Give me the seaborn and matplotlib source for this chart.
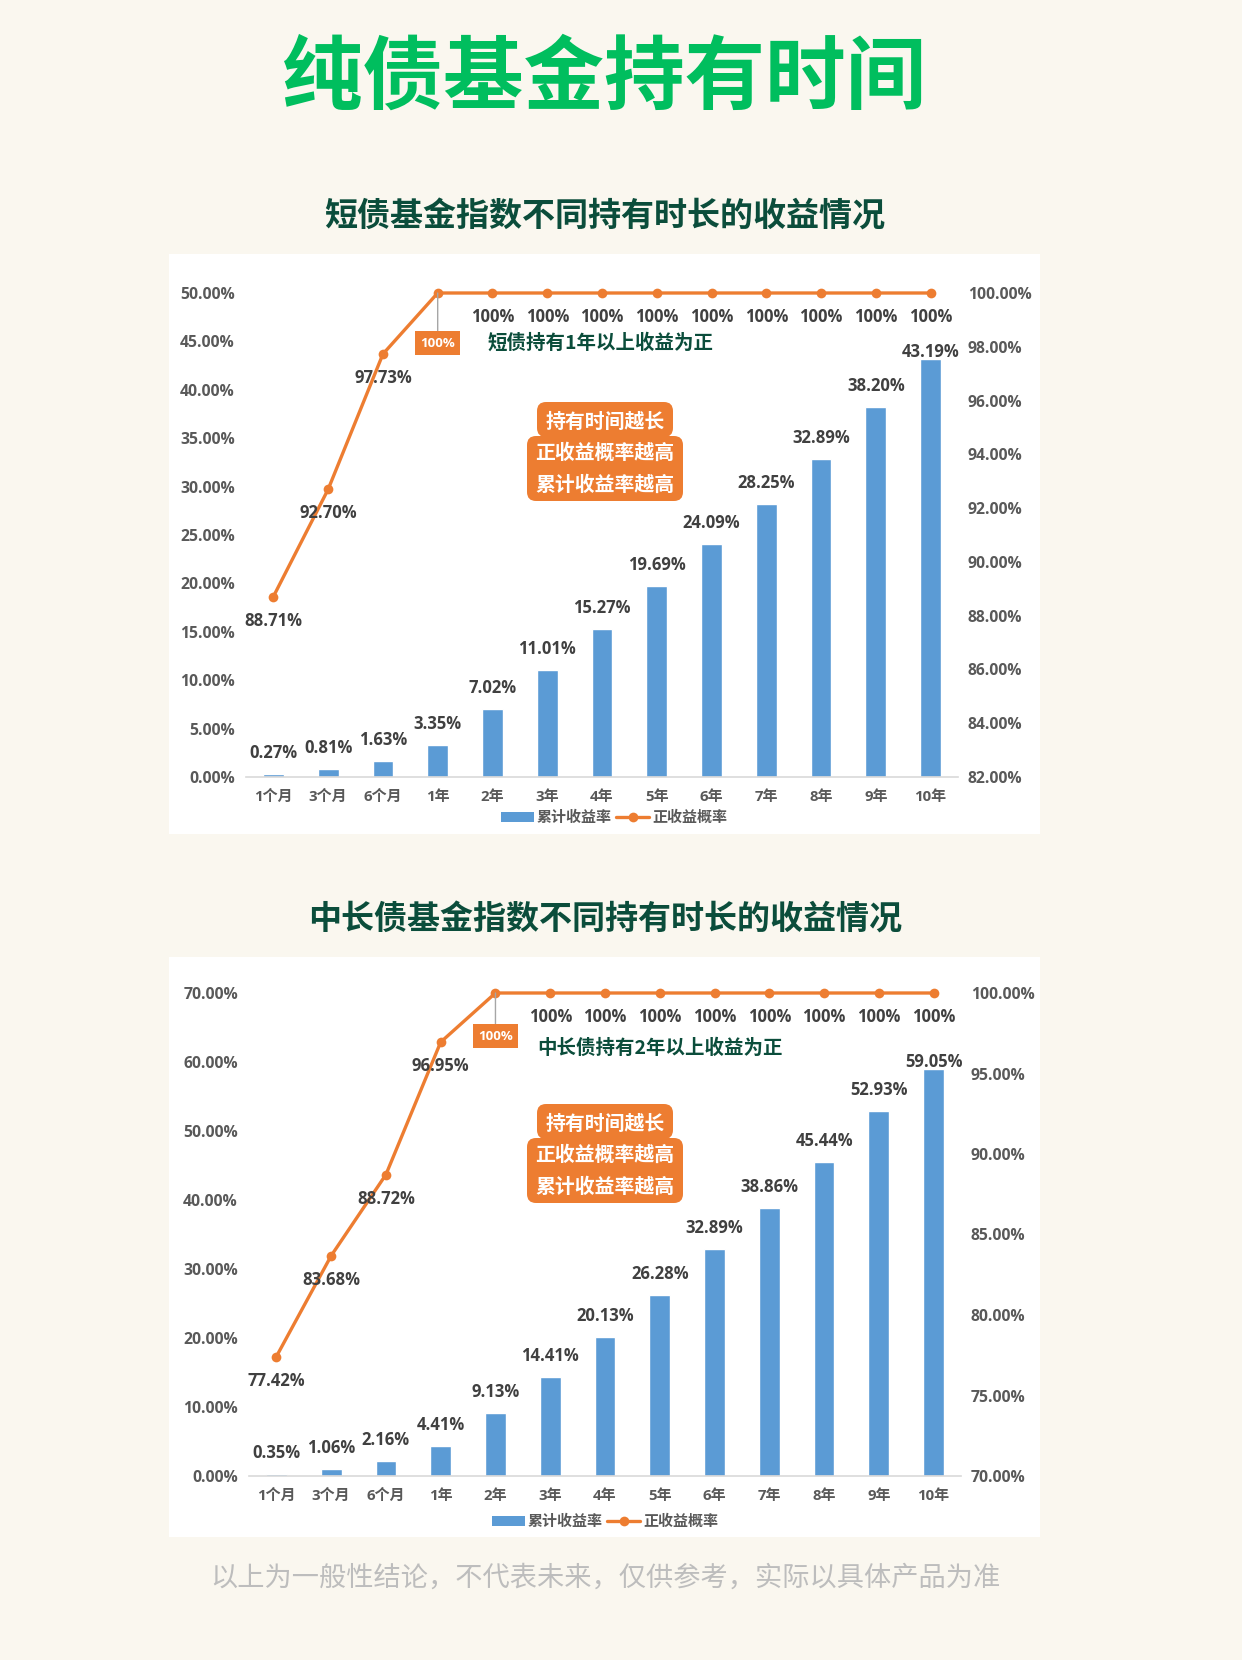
import numpy as np
import pandas as pd
import matplotlib.pyplot as plt
import seaborn as sns
from matplotlib.patches import Rectangle, FancyBboxPatch, Patch
from matplotlib.lines import Line2D

# data
periods = ['1个月', '3个月', '6个月', '1年', '2年', '3年', '4年', '5年', '6年', '7年', '8年', '9年', '10年']
short_return = [0.27, 0.81, 1.63, 3.35, 7.02, 11.01, 15.27, 19.69, 24.09, 28.25, 32.89, 38.20, 43.19]
short_prob = [88.71, 92.70, 97.73, 100, 100, 100, 100, 100, 100, 100, 100, 100, 100]
long_return = [0.35, 1.06, 2.16, 4.41, 9.13, 14.41, 20.13, 26.28, 32.89, 38.86, 45.44, 52.93, 59.05]
long_prob = [77.42, 83.68, 88.72, 96.95, 100, 100, 100, 100, 100, 100, 100, 100, 100]

W, H = 1242, 1660
BG = '#FAF7EF'
BLUE = '#5B9BD5'
ORANGE = '#ED7D31'
GREEN = '#00BE5E'
DKGREEN = '#0B4D3B'
CJK = ['Noto Sans CJK SC', 'DejaVu Sans']

sns.set_style('white')
plt.rcParams['font.family'] = ['Open Sans', 'Noto Sans CJK SC', 'DejaVu Sans']
plt.rcParams['font.weight'] = 'bold'

fig = plt.figure(figsize=(W / 100, H / 100), dpi=100, facecolor=BG)
inch = fig.dpi_scale_trans


def px(x, y):
    # pixel position (from top-left) -> inches for dpi_scale_trans
    return (x / 100, (H - y) / 100)


def draw_chart(panel, axbox, returns, probs, lims, steps, note, note_xy, box_dy, legend_xy, bubble_top):
    # white panel
    x0, y0, x1, y1 = panel
    fig.add_artist(Rectangle(px(x0, y1), (x1 - x0) / 100, (y1 - y0) / 100,
                             transform=inch, fc='white', ec='none', zorder=-1))

    l, t, r, b = axbox
    ax = fig.add_axes([l / W, 1 - b / H, (r - l) / W, (b - t) / H])
    ax.patch.set_alpha(0)

    df = pd.DataFrame({'period': periods, 'ret': returns})
    sns.barplot(data=df, x='period', y='ret', color=BLUE, width=0.38,
                saturation=1, ax=ax, zorder=2)
    n = len(returns)
    for i, v in enumerate(returns):
        off = 7 if i == n - 1 else 21
        ax.annotate(f'{v:.2f}%', (i, v), xytext=(0, off), textcoords='offset pixels',
                    ha='center', va='center', fontsize=12, color='#404040')

    ax2 = ax.twinx()
    ax2.patch.set_alpha(0)
    sns.lineplot(x=np.arange(n), y=probs, ax=ax2, color=ORANGE, lw=2.4, marker='o',
                 markersize=7, markeredgewidth=0, clip_on=False, zorder=3)
    first_full = probs.index(100)
    for i, p in enumerate(probs):
        if i == first_full:
            ax2.annotate('100%', (i, p), xytext=(0, -box_dy), textcoords='offset pixels',
                         ha='center', va='center', fontsize=9.5, color='white',
                         bbox=dict(boxstyle='square,pad=0.38', fc=ORANGE, ec='none'),
                         arrowprops=dict(arrowstyle='-', color='#A6A6A6', lw=1,
                                         shrinkA=0, shrinkB=0))
            continue
        lab = '100%' if p == 100 else f'{p:.2f}%'
        ax2.annotate(lab, (i, p), xytext=(0, -24), textcoords='offset pixels',
                     ha='center', va='center', fontsize=12, color='#404040')

    (lmax, rmin), (lstep, rstep) = lims, steps
    lt = np.arange(0, lmax + 0.01, lstep)
    ax.set_ylim(0, lmax)
    ax.set_yticks(lt)
    ax.set_yticklabels([f'{v:.2f}%' for v in lt])
    rt = np.arange(rmin, 100.01, rstep)
    ax2.set_ylim(rmin, 100)
    ax2.set_yticks(rt)
    ax2.set_yticklabels([f'{v:.2f}%' for v in rt])
    ax.set_xlim(-0.5, n - 0.5)

    for a in (ax, ax2):
        a.set_xlabel('')
        a.set_ylabel('')
        a.grid(False)
        for s in a.spines.values():
            s.set_visible(False)
    ax.spines['bottom'].set_visible(True)
    ax.spines['bottom'].set_color('#D9D9D9')
    ax.spines['bottom'].set_linewidth(1.2)
    ax.tick_params(axis='y', length=0, pad=8, labelsize=11.3, labelcolor='#595959')
    ax2.tick_params(axis='y', length=0, pad=7, labelsize=11.3, labelcolor='#595959')
    ax.tick_params(axis='x', length=0, pad=9, labelsize=10.8, labelcolor='#595959')

    # legend
    handles = [Patch(fc=BLUE, ec='none'),
               Line2D([0], [0], color=ORANGE, lw=2.4, marker='o', ms=7, mew=0)]
    fig.legend(handles, ['累计收益率', '正收益概率'], loc='center',
               bbox_to_anchor=px(*legend_xy), bbox_transform=inch, ncol=2,
               frameon=False, handlelength=2.2, handletextpad=0.2, columnspacing=0.3,
               labelcolor='#595959', prop=dict(family=CJK, weight='bold', size=10.8))

    # green note
    fig.text(*px(*note_xy), note, transform=inch, ha='left', va='center',
             fontsize=14, color=DKGREEN, family=CJK, weight='bold')

    # orange bubble with three lines
    bt = bubble_top
    fig.add_artist(FancyBboxPatch(px(537, bt + 33), 1.36, 0.35,
                                  boxstyle='round,pad=0,rounding_size=0.09',
                                  transform=inch, fc=ORANGE, ec='none', zorder=4))
    fig.add_artist(FancyBboxPatch(px(527, bt + 97), 1.56, 0.65,
                                  boxstyle='round,pad=0,rounding_size=0.09',
                                  transform=inch, fc=ORANGE, ec='none', zorder=4))
    for k, line in enumerate(['持有时间越长', '正收益概率越高', '累计收益率越高']):
        fig.text(*px(605, bt + 17 + 31.5 * k), line, transform=inch, ha='center',
                 va='center', fontsize=14.3, color='white', family=CJK,
                 weight='bold', zorder=5)


fig.text(*px(604, 79), '纯债基金持有时间', transform=inch, ha='center', va='center',
         fontsize=58, fontweight='black', color=GREEN, family=CJK)
fig.text(*px(605, 217), '短债基金指数不同持有时长的收益情况', transform=inch,
         ha='center', va='center', fontsize=23.8, fontweight='bold', color=DKGREEN, family=CJK)
fig.text(*px(605, 920), '中长债基金指数不同持有时长的收益情况', transform=inch,
         ha='center', va='center', fontsize=23.8, fontweight='bold', color=DKGREEN, family=CJK)

draw_chart((169, 254, 1040, 834), (246, 293, 958, 777), short_return, short_prob,
           (50, 82), (5, 2), '短债持有1年以上收益为正', (488, 343), 50, (614, 817), 404)
draw_chart((169, 957, 1040, 1537), (249, 993, 961, 1476), long_return, long_prob,
           (70, 70), (10, 5), '中长债持有2年以上收益为正', (537, 1048), 43, (605, 1521), 1106)

fig.text(*px(605, 1578), '以上为一般性结论，不代表未来，仅供参考，实际以具体产品为准',
         transform=inch, ha='center', va='center', fontsize=19.6, color='#BDBDBD',
         fontweight='normal', family=CJK)

fig.savefig('out.png', dpi=100, facecolor=BG)
